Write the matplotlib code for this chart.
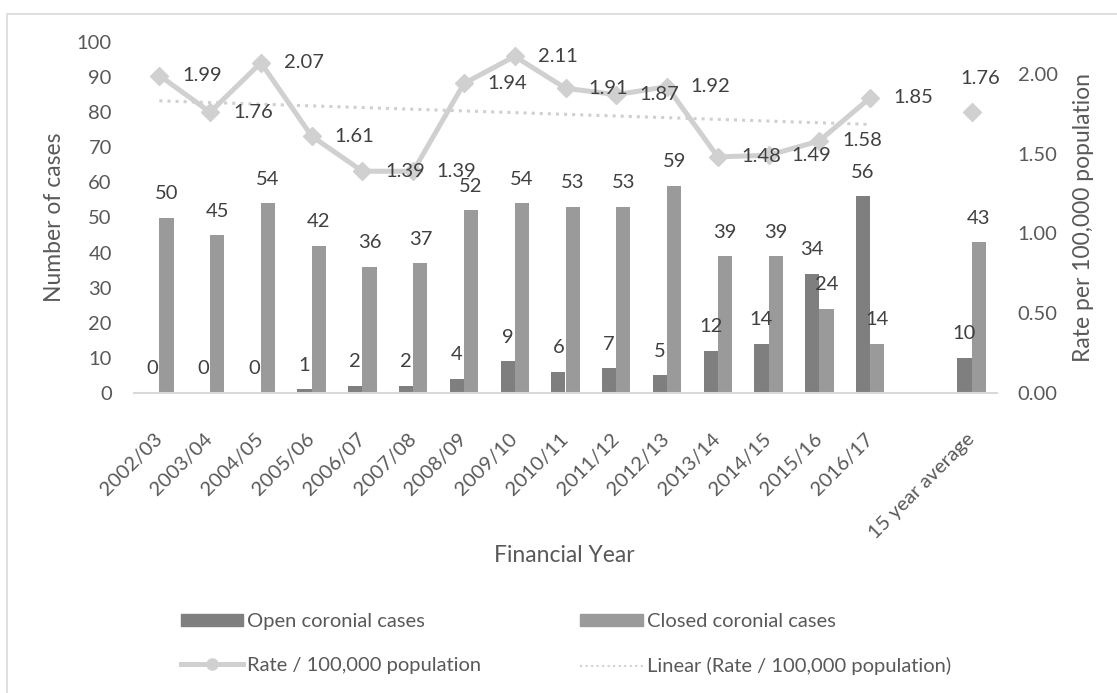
import matplotlib.pyplot as plt
import matplotlib.transforms as mtransforms
from matplotlib.patches import Rectangle
from matplotlib.lines import Line2D
import numpy as np

years = ['2002/03', '2003/04', '2004/05', '2005/06', '2006/07', '2007/08', '2008/09',
         '2009/10', '2010/11', '2011/12', '2012/13', '2013/14', '2014/15', '2015/16',
         '2016/17', '', '15 year average']
open_cases = [0, 0, 0, 1, 2, 2, 4, 9, 6, 7, 5, 12, 14, 34, 56]
closed_cases = [50, 45, 54, 42, 36, 37, 52, 54, 53, 53, 59, 39, 39, 24, 14]
rate = [1.99, 1.76, 2.07, 1.61, 1.39, 1.39, 1.94, 2.11, 1.91, 1.87, 1.92, 1.48, 1.49, 1.58, 1.85]
avg_open = 10
avg_closed = 43
avg_rate = 1.76

plt.rcParams['font.family'] = ['Lato', 'DejaVu Sans']
grey_txt = '#595959'
lbl_txt = '#404040'
c_open = '#7f7f7f'
c_closed = '#9a9a9a'
c_line = '#d0d0d0'
fs = 14.5

fig = plt.figure(figsize=(11.17, 6.93), dpi=100)
W, H = 1117, 693
fig.patches.append(Rectangle((7 / W, -0.1), 1.2, 1 - 14 / H + 0.1, transform=fig.transFigure,
                             fill=False, edgecolor='#d9d9d9', linewidth=1.2))

ax = fig.add_axes([134 / W, 1 - 393 / H, (997 - 134) / W, (393 - 42) / H])
ax2 = ax.twinx()

n = len(open_cases)
x = np.arange(n)
avg_x = len(years) - 1
bw = 0.28

ax.bar(x - bw / 2, open_cases, bw, color=c_open)
ax.bar(x + bw / 2, closed_cases, bw, color=c_closed)
ax.bar([avg_x - bw / 2], [avg_open], bw, color=c_open)
ax.bar([avg_x + bw / 2], [avg_closed], bw, color=c_closed)

off = 24 * 72 / 100
for xi, v in zip(list(x) + [avg_x], open_cases + [avg_open]):
    ax.annotate(str(v), (xi - bw / 2, v), xytext=(0, off), textcoords='offset points',
                ha='center', va='center', fontsize=fs, color=lbl_txt)
for xi, v in zip(list(x) + [avg_x], closed_cases + [avg_closed]):
    ax.annotate(str(v), (xi + bw / 2, v), xytext=(0, off), textcoords='offset points',
                ha='center', va='center', fontsize=fs, color=lbl_txt)

ax.set_xlim(-0.5, len(years) - 0.5)
ax.set_ylim(0, 100)
ax.set_yticks(range(0, 101, 10))
ax.set_xticks(range(len(years)))
ax.set_xticklabels(years, rotation=45, ha='right', va='center', rotation_mode='anchor')
shift = mtransforms.ScaledTranslation(0.17, 0, fig.dpi_scale_trans)
for t in ax.get_xticklabels():
    t.set_transform(t.get_transform() + shift)
ax.tick_params(axis='x', length=0, pad=31, labelsize=fs, labelcolor=grey_txt)
ax.tick_params(axis='y', length=0, pad=16, labelsize=fs, labelcolor=grey_txt)
for s in ['top', 'right', 'left']:
    ax.spines[s].set_visible(False)
ax.spines['bottom'].set_color('#d9d9d9')
ax.spines['bottom'].set_linewidth(1.5)

# rate line on the secondary axis
ax2.plot(x, rate, color=c_line, linewidth=3.6, marker='D', markersize=9, zorder=3)
ax2.plot([avg_x], [avg_rate], color=c_line, linestyle='none', marker='D', markersize=9)
coef = np.polyfit(x, rate, 1)
ax2.plot(x[[0, -1]], np.polyval(coef, x[[0, -1]]), color=c_line, linestyle=':', linewidth=2.2)
for xi, v in zip(x, rate):
    ax2.annotate(f'{v:.2f}', (xi, v), xytext=(31, 0), textcoords='offset points',
                 ha='center', va='center', fontsize=fs, color=lbl_txt)
ax2.annotate(f'{avg_rate:.2f}', (avg_x, avg_rate), xytext=(6, 24), textcoords='offset points',
             ha='center', va='center', fontsize=fs, color=lbl_txt)
ax2.set_ylim(0, 2.2)
ax2.set_yticks([0, 0.5, 1.0, 1.5, 2.0])
ax2.set_yticklabels(['0.00', '0.50', '1.00', '1.50', '2.00'])
ax2.tick_params(axis='y', length=0, pad=15, labelsize=fs, labelcolor=grey_txt)
for s in ax2.spines.values():
    s.set_visible(False)

fig.text(55 / W, 1 - 217 / H, 'Number of cases', rotation=90, ha='center', va='center',
         fontsize=16.5, color=grey_txt)
fig.text(1083 / W, 1 - 217 / H, 'Rate per 100,000 population', rotation=90, ha='center',
         va='center', fontsize=16.5, color=grey_txt)
fig.text(564 / W, 1 - 555 / H, 'Financial Year', ha='center', va='center',
         fontsize=16.5, color=grey_txt)

handles = [
    Rectangle((0, 0), 1, 1, color=c_open),
    Line2D([], [], color=c_line, linewidth=3.6, marker='o', markersize=8),
    Rectangle((0, 0), 1, 1, color=c_closed),
    Line2D([], [], color=c_line, linestyle=':', linewidth=1.5),
]
labels = ['Open coronial cases', 'Rate / 100,000 population',
          'Closed coronial cases', 'Linear (Rate / 100,000 population)']
leg = fig.legend(handles, labels, ncol=2, loc='upper left', bbox_to_anchor=(181 / W, 1 - 613 / H),
                 frameon=False, fontsize=fs, handlelength=3.1, handleheight=0.6, handletextpad=0.2,
                 labelspacing=1.35, columnspacing=4.9, borderpad=0, borderaxespad=0)
for t in leg.get_texts():
    t.set_color(grey_txt)

fig.savefig('out.png', dpi=100)
